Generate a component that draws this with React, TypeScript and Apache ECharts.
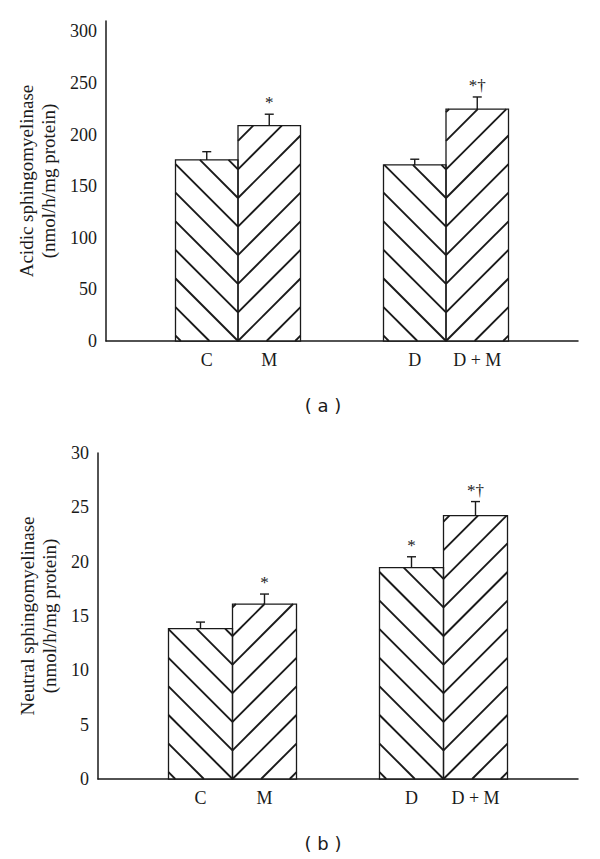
import React, { useEffect, useRef } from "react";
import * as echarts from "echarts";

// ---- data ----
const groups = ["Control group", "Diabetic group"];
const leftNames = ["C", "D"];
const rightNames = ["M", "D + M"];

// (a) Acidic sphingomyelinase
const acidLeft = [175.4, 170.6];
const acidRight = [208.7, 224.7];
const acidLeftErr = [8, 5.5];
const acidRightErr = [11, 11.7];
const acidLeftSig = ["", ""];
const acidRightSig = ["*", "*†"];
const acidMax = 310;
const acidInterval = 50;

// (b) Neutral sphingomyelinase
const neutralLeft = [13.84, 19.45];
const neutralRight = [16.1, 24.23];
const neutralLeftErr = [0.6, 1.0];
const neutralRightErr = [0.92, 1.3];
const neutralLeftSig = ["", "*"];
const neutralRightSig = ["*", "*†"];
const neutralMax = 30;
const neutralInterval = 5;

const SERIF = "Liberation Serif";
const INK = "#1a1a1a";

function buildPanel(
  p: number,
  left: number[],
  right: number[],
  leftErr: number[],
  rightErr: number[],
  leftSig: string[],
  rightSig: string[],
  barWidth: number
) {
  const barX = p * 2 + 1;
  const barY = p * 2 + 1;
  const sigs = [...leftSig, ...rightSig];
  const customData: number[][] = [];
  left.forEach((v, i) => customData.push([i, v, leftErr[i], 0]));
  right.forEach((v, i) => customData.push([i, v, rightErr[i], 1]));
  const spacing = 28.6;

  const catLabel = (names: string[]) => ({
    show: true,
    position: "bottom",
    distance: 10,
    formatter: (pr: any) => names[pr.dataIndex],
    fontFamily: SERIF,
    fontSize: 18,
    lineHeight: 18,
    color: INK,
  });

  const series: any[] = [
    {
      type: "bar",
      xAxisIndex: barX,
      yAxisIndex: barY,
      data: left,
      barWidth,
      barGap: "0%",
      itemStyle: { color: "#ffffff", borderWidth: 0 },
      label: catLabel(leftNames),
      z: 2,
    },
    {
      type: "bar",
      xAxisIndex: barX,
      yAxisIndex: barY,
      data: right,
      barWidth,
      barGap: "0%",
      itemStyle: { color: "#ffffff", borderWidth: 0 },
      label: catLabel(rightNames),
      z: 2,
    },
    {
      type: "custom",
      xAxisIndex: barX,
      yAxisIndex: barY,
      data: customData,
      encode: { x: 0, y: 1 },
      z: 3,
      renderItem: (params: any, api: any) => {
        const g = api.value(0);
        const v = api.value(1);
        const e = api.value(2);
        const side = api.value(3);
        const base = api.coord([g, 0]);
        const top = api.coord([g, v]);
        const errTop = api.coord([g, v + e]);
        const cx = base[0];
        const by = base[1];
        const ty = top[1];
        const x0 = side === 0 ? cx - barWidth : cx;
        const x1 = x0 + barWidth;
        const children: any[] = [];
        const lineStyle = { stroke: INK, lineWidth: 1.9, fill: null };
        for (let k = -6; k < 40; k++) {
          const yk = by - k * spacing;
          if (side === 0) {
            const c = yk - cx;
            const xs = Math.max(x0, ty - c);
            const xe = Math.min(x1, by - c);
            if (xs < xe) {
              children.push({
                type: "line",
                shape: { x1: xs, y1: xs + c, x2: xe, y2: xe + c },
                style: lineStyle,
              });
            }
          } else {
            const c = yk + cx;
            const xs = Math.max(x0, c - by);
            const xe = Math.min(x1, c - ty);
            if (xs < xe) {
              children.push({
                type: "line",
                shape: { x1: xs, y1: c - xs, x2: xe, y2: c - xe },
                style: lineStyle,
              });
            }
          }
        }
        children.push({
          type: "rect",
          shape: { x: x0, y: ty, width: barWidth, height: by - ty },
          style: { fill: null, stroke: INK, lineWidth: 1.3 },
        });
        const bx = (x0 + x1) / 2;
        children.push({
          type: "line",
          shape: { x1: bx, y1: ty, x2: bx, y2: errTop[1] },
          style: { stroke: INK, lineWidth: 1.4 },
        });
        children.push({
          type: "line",
          shape: { x1: bx - 4.5, y1: errTop[1], x2: bx + 4.5, y2: errTop[1] },
          style: { stroke: INK, lineWidth: 1.4 },
        });
        const sig = sigs[params.dataIndex];
        if (sig) {
          children.push({
            type: "text",
            x: bx,
            y: errTop[1] - 3,
            style: {
              text: sig,
              fontFamily: SERIF,
              fontSize: 17,
              fill: INK,
              align: "center",
              verticalAlign: "bottom",
            },
          });
        }
        return { type: "group", children };
      },
    },
  ];
  return series;
}

export default function App() {
  const ref = useRef<HTMLDivElement>(null);
  useEffect(() => {
    document.body.style.margin = "0";
    if (!ref.current) return;
    const chart = echarts.init(ref.current, undefined, { renderer: "svg" });

    const frameY = (max: number, interval: number, name: string, gap: number) => ({
      type: "value",
      min: 0,
      max,
      interval,
      name,
      nameLocation: "middle",
      nameRotate: 90,
      nameGap: gap,
      nameTextStyle: { fontFamily: SERIF, fontSize: 19, lineHeight: 22, color: INK },
      axisLine: { show: true, lineStyle: { color: INK, width: 1.5 } },
      axisTick: { show: false },
      splitLine: { show: false },
      axisLabel: {
        margin: 9,
        fontFamily: SERIF,
        fontSize: 18,
        color: INK,
        formatter: (v: number) => (v % interval === 0 ? String(v) : ""),
      },
    });
    const frameX = () => ({
      type: "value",
      min: 0,
      max: 1,
      axisLine: { show: true, onZero: false, lineStyle: { color: INK, width: 1.5 } },
      axisTick: { show: false },
      axisLabel: { show: false },
      splitLine: { show: false },
    });
    const barXAxis = () => ({ type: "category", data: groups, show: false });
    const barYAxis = (max: number) => ({ type: "value", min: 0, max, show: false, splitLine: { show: false } });

    const option: any = {
      animation: false,
      backgroundColor: "#ffffff",
      grid: [
        { left: 106, right: 22, top: 21, height: 320 },
        { left: 134, right: 50, top: 21, height: 320 },
        { left: 98, right: 22, top: 453, height: 326 },
        { left: 127, right: 51, top: 453, height: 326 },
      ],
      xAxis: [
        { ...frameX(), gridIndex: 0 },
        { ...barXAxis(), gridIndex: 1 },
        { ...frameX(), gridIndex: 2 },
        { ...barXAxis(), gridIndex: 3 },
      ],
      yAxis: [
        { ...frameY(acidMax, acidInterval, "Acidic sphingomyelinase\n(nmol/h/mg protein)", 37), gridIndex: 0 },
        { ...barYAxis(acidMax), gridIndex: 1 },
        { ...frameY(neutralMax, neutralInterval, "Neutral sphingomyelinase\n(nmol/h/mg protein)", 32), gridIndex: 2 },
        { ...barYAxis(neutralMax), gridIndex: 3 },
      ],
      graphic: [
        {
          type: "text",
          x: 323,
          y: 405,
          style: { text: "( a )", fontFamily: "DejaVu Sans", fontSize: 18, fill: INK, align: "center", verticalAlign: "middle" },
        },
        {
          type: "text",
          x: 323,
          y: 843,
          style: { text: "( b )", fontFamily: "DejaVu Sans", fontSize: 18, fill: INK, align: "center", verticalAlign: "middle" },
        },
      ],
      series: [
        ...buildPanel(0, acidLeft, acidRight, acidLeftErr, acidRightErr, acidLeftSig, acidRightSig, 62.5),
        ...buildPanel(1, neutralLeft, neutralRight, neutralLeftErr, neutralRightErr, neutralLeftSig, neutralRightSig, 64),
      ],
    };
    chart.setOption(option);
    return () => chart.dispose();
  }, []);
  return <div ref={ref} style={{ width: 600, height: 859 }} />;
}
